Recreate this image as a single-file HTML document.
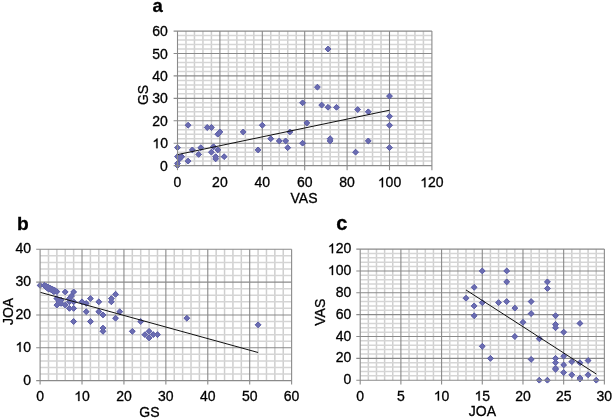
<!DOCTYPE html>
<html><head><meta charset="utf-8">
<style>
html,body{margin:0;padding:0;background:#fff;}
body{width:614px;height:419px;overflow:hidden;}
svg{display:block;}
text{font-family:"Liberation Sans",sans-serif;font-size:14px;fill:#000;stroke:#000;stroke-width:0.3px;}
.t{font-weight:bold;font-size:20px;}
.po{fill:#46489a;stroke:#46489a;stroke-width:0.9px;stroke-linejoin:miter;}
.pi{fill:#6a6cb1;}
.h{fill-opacity:0;stroke-opacity:0;}
.one{fill:#000;stroke:#000;stroke-width:44;}
</style></head><body>
<svg width="614" height="419" viewBox="0 0 614 419">
<defs><filter id="bl" x="0" y="0" width="100%" height="100%"><feGaussianBlur stdDeviation="0.4"/></filter></defs>
<rect width="614" height="419" fill="#fff"/>
<g filter="url(#bl)">
<g>
<line x1="185.98" y1="31.08" x2="185.98" y2="165.6" stroke="#cfcfcf" stroke-width="1.5"/>
<line x1="194.46" y1="31.08" x2="194.46" y2="165.6" stroke="#cfcfcf" stroke-width="1.5"/>
<line x1="202.94" y1="31.08" x2="202.94" y2="165.6" stroke="#cfcfcf" stroke-width="1.5"/>
<line x1="211.42" y1="31.08" x2="211.42" y2="165.6" stroke="#cfcfcf" stroke-width="1.5"/>
<line x1="228.38" y1="31.08" x2="228.38" y2="165.6" stroke="#cfcfcf" stroke-width="1.5"/>
<line x1="236.86" y1="31.08" x2="236.86" y2="165.6" stroke="#cfcfcf" stroke-width="1.5"/>
<line x1="245.34" y1="31.08" x2="245.34" y2="165.6" stroke="#cfcfcf" stroke-width="1.5"/>
<line x1="253.82" y1="31.08" x2="253.82" y2="165.6" stroke="#cfcfcf" stroke-width="1.5"/>
<line x1="270.78" y1="31.08" x2="270.78" y2="165.6" stroke="#cfcfcf" stroke-width="1.5"/>
<line x1="279.26" y1="31.08" x2="279.26" y2="165.6" stroke="#cfcfcf" stroke-width="1.5"/>
<line x1="287.74" y1="31.08" x2="287.74" y2="165.6" stroke="#cfcfcf" stroke-width="1.5"/>
<line x1="296.22" y1="31.08" x2="296.22" y2="165.6" stroke="#cfcfcf" stroke-width="1.5"/>
<line x1="313.18" y1="31.08" x2="313.18" y2="165.6" stroke="#cfcfcf" stroke-width="1.5"/>
<line x1="321.66" y1="31.08" x2="321.66" y2="165.6" stroke="#cfcfcf" stroke-width="1.5"/>
<line x1="330.14" y1="31.08" x2="330.14" y2="165.6" stroke="#cfcfcf" stroke-width="1.5"/>
<line x1="338.62" y1="31.08" x2="338.62" y2="165.6" stroke="#cfcfcf" stroke-width="1.5"/>
<line x1="355.58" y1="31.08" x2="355.58" y2="165.6" stroke="#cfcfcf" stroke-width="1.5"/>
<line x1="364.06" y1="31.08" x2="364.06" y2="165.6" stroke="#cfcfcf" stroke-width="1.5"/>
<line x1="372.54" y1="31.08" x2="372.54" y2="165.6" stroke="#cfcfcf" stroke-width="1.5"/>
<line x1="381.02" y1="31.08" x2="381.02" y2="165.6" stroke="#cfcfcf" stroke-width="1.5"/>
<line x1="397.98" y1="31.08" x2="397.98" y2="165.6" stroke="#cfcfcf" stroke-width="1.5"/>
<line x1="406.46" y1="31.08" x2="406.46" y2="165.6" stroke="#cfcfcf" stroke-width="1.5"/>
<line x1="414.94" y1="31.08" x2="414.94" y2="165.6" stroke="#cfcfcf" stroke-width="1.5"/>
<line x1="423.42" y1="31.08" x2="423.42" y2="165.6" stroke="#cfcfcf" stroke-width="1.5"/>
<line x1="177.5" y1="161.12" x2="431.9" y2="161.12" stroke="#d5d5d5" stroke-width="1.5"/>
<line x1="177.5" y1="156.63" x2="431.9" y2="156.63" stroke="#d5d5d5" stroke-width="1.5"/>
<line x1="177.5" y1="152.15" x2="431.9" y2="152.15" stroke="#d5d5d5" stroke-width="1.5"/>
<line x1="177.5" y1="147.66" x2="431.9" y2="147.66" stroke="#d5d5d5" stroke-width="1.5"/>
<line x1="177.5" y1="138.7" x2="431.9" y2="138.7" stroke="#d5d5d5" stroke-width="1.5"/>
<line x1="177.5" y1="134.21" x2="431.9" y2="134.21" stroke="#d5d5d5" stroke-width="1.5"/>
<line x1="177.5" y1="129.73" x2="431.9" y2="129.73" stroke="#d5d5d5" stroke-width="1.5"/>
<line x1="177.5" y1="125.24" x2="431.9" y2="125.24" stroke="#d5d5d5" stroke-width="1.5"/>
<line x1="177.5" y1="116.28" x2="431.9" y2="116.28" stroke="#d5d5d5" stroke-width="1.5"/>
<line x1="177.5" y1="111.79" x2="431.9" y2="111.79" stroke="#d5d5d5" stroke-width="1.5"/>
<line x1="177.5" y1="107.31" x2="431.9" y2="107.31" stroke="#d5d5d5" stroke-width="1.5"/>
<line x1="177.5" y1="102.82" x2="431.9" y2="102.82" stroke="#d5d5d5" stroke-width="1.5"/>
<line x1="177.5" y1="93.86" x2="431.9" y2="93.86" stroke="#d5d5d5" stroke-width="1.5"/>
<line x1="177.5" y1="89.37" x2="431.9" y2="89.37" stroke="#d5d5d5" stroke-width="1.5"/>
<line x1="177.5" y1="84.89" x2="431.9" y2="84.89" stroke="#d5d5d5" stroke-width="1.5"/>
<line x1="177.5" y1="80.4" x2="431.9" y2="80.4" stroke="#d5d5d5" stroke-width="1.5"/>
<line x1="177.5" y1="71.44" x2="431.9" y2="71.44" stroke="#d5d5d5" stroke-width="1.5"/>
<line x1="177.5" y1="66.95" x2="431.9" y2="66.95" stroke="#d5d5d5" stroke-width="1.5"/>
<line x1="177.5" y1="62.47" x2="431.9" y2="62.47" stroke="#d5d5d5" stroke-width="1.5"/>
<line x1="177.5" y1="57.98" x2="431.9" y2="57.98" stroke="#d5d5d5" stroke-width="1.5"/>
<line x1="177.5" y1="49.02" x2="431.9" y2="49.02" stroke="#d5d5d5" stroke-width="1.5"/>
<line x1="177.5" y1="44.53" x2="431.9" y2="44.53" stroke="#d5d5d5" stroke-width="1.5"/>
<line x1="177.5" y1="40.05" x2="431.9" y2="40.05" stroke="#d5d5d5" stroke-width="1.5"/>
<line x1="177.5" y1="35.56" x2="431.9" y2="35.56" stroke="#d5d5d5" stroke-width="1.5"/>
<line x1="219.9" y1="31.08" x2="219.9" y2="170.2" stroke="#8a8a8a" stroke-width="1.1"/>
<line x1="262.3" y1="31.08" x2="262.3" y2="170.2" stroke="#8a8a8a" stroke-width="1.1"/>
<line x1="304.7" y1="31.08" x2="304.7" y2="170.2" stroke="#8a8a8a" stroke-width="1.1"/>
<line x1="347.1" y1="31.08" x2="347.1" y2="170.2" stroke="#8a8a8a" stroke-width="1.1"/>
<line x1="389.5" y1="31.08" x2="389.5" y2="170.2" stroke="#8a8a8a" stroke-width="1.1"/>
<line x1="431.9" y1="31.08" x2="431.9" y2="170.2" stroke="#8a8a8a" stroke-width="1.1"/>
<line x1="173.6" y1="143.18" x2="431.9" y2="143.18" stroke="#8a8a8a" stroke-width="1.1"/>
<line x1="173.6" y1="120.76" x2="431.9" y2="120.76" stroke="#8a8a8a" stroke-width="1.1"/>
<line x1="173.6" y1="98.34" x2="431.9" y2="98.34" stroke="#8a8a8a" stroke-width="1.1"/>
<line x1="173.6" y1="75.92" x2="431.9" y2="75.92" stroke="#8a8a8a" stroke-width="1.1"/>
<line x1="173.6" y1="53.5" x2="431.9" y2="53.5" stroke="#8a8a8a" stroke-width="1.1"/>
<line x1="173.6" y1="31.08" x2="431.9" y2="31.08" stroke="#8a8a8a" stroke-width="1.1"/>
<text x="173.61" y="187.2">0</text>
<text x="212.11" y="187.2">20</text>
<text x="254.51" y="187.2">40</text>
<text x="296.91" y="187.2">60</text>
<text x="339.31" y="187.2">80</text>
<text x="377.82" y="187.2"><tspan class="h">1</tspan>00</text><path class="one" transform="translate(377.82 187.2) scale(0.006836 -0.006836)" d="M763 0H583V1100Q518 1040 412 980Q307 921 223 891V1058Q374 1127 487 1224Q600 1321 647 1409H763V0Z"/>
<text x="420.22" y="187.2"><tspan class="h">1</tspan>20</text><path class="one" transform="translate(420.22 187.2) scale(0.006836 -0.006836)" d="M763 0H583V1100Q518 1040 412 980Q307 921 223 891V1058Q374 1127 487 1224Q600 1321 647 1409H763V0Z"/>
<text x="160.11" y="170.6">0</text>
<text x="152.33" y="148.18"><tspan class="h">1</tspan>0</text><path class="one" transform="translate(152.33 148.18) scale(0.006836 -0.006836)" d="M763 0H583V1100Q518 1040 412 980Q307 921 223 891V1058Q374 1127 487 1224Q600 1321 647 1409H763V0Z"/>
<text x="152.33" y="125.76">20</text>
<text x="152.33" y="103.34">30</text>
<text x="152.33" y="80.92">40</text>
<text x="152.33" y="58.5">50</text>
<text x="152.33" y="36.08">60</text>
<path class="po" d="M177.5 162.7L180.4 165.6L177.5 168.5L174.6 165.6ZM177.5 160.46L180.4 163.36L177.5 166.26L174.6 163.36ZM177.5 153.73L180.4 156.63L177.5 159.53L174.6 156.63ZM177.5 144.76L180.4 147.66L177.5 150.56L174.6 147.66ZM179.62 155.97L182.52 158.87L179.62 161.77L176.72 158.87ZM181.74 153.73L184.64 156.63L181.74 159.53L178.84 156.63ZM188.1 158.22L191 161.12L188.1 164.02L185.2 161.12ZM188.1 122.34L191 125.24L188.1 128.14L185.2 125.24ZM192.34 147.01L195.24 149.91L192.34 152.81L189.44 149.91ZM198.7 151.49L201.6 154.39L198.7 157.29L195.8 154.39ZM200.82 144.76L203.72 147.66L200.82 150.56L197.92 147.66ZM207.18 124.59L210.08 127.49L207.18 130.39L204.28 127.49ZM211.42 124.59L214.32 127.49L211.42 130.39L208.52 127.49ZM211.42 149.25L214.32 152.15L211.42 155.05L208.52 152.15ZM213.54 143.87L216.44 146.77L213.54 149.67L210.64 146.77ZM215.66 153.73L218.56 156.63L215.66 159.53L212.76 156.63ZM215.66 155.97L218.56 158.87L215.66 161.77L212.76 158.87ZM217.78 147.01L220.68 149.91L217.78 152.81L214.88 149.91ZM217.78 131.31L220.68 134.21L217.78 137.11L214.88 134.21ZM219.9 129.07L222.8 131.97L219.9 134.87L217 131.97ZM224.14 153.73L227.04 156.63L224.14 159.53L221.24 156.63ZM243.22 129.07L246.12 131.97L243.22 134.87L240.32 131.97ZM258.06 147.01L260.96 149.91L258.06 152.81L255.16 149.91ZM262.3 122.34L265.2 125.24L262.3 128.14L259.4 125.24ZM270.78 135.8L273.68 138.7L270.78 141.6L267.88 138.7ZM279.26 138.04L282.16 140.94L279.26 143.84L276.36 140.94ZM285.62 138.04L288.52 140.94L285.62 143.84L282.72 140.94ZM287.74 144.76L290.64 147.66L287.74 150.56L284.84 147.66ZM289.86 129.07L292.76 131.97L289.86 134.87L286.96 131.97ZM302.58 99.92L305.48 102.82L302.58 105.72L299.68 102.82ZM302.58 140.28L305.48 143.18L302.58 146.08L299.68 143.18ZM306.82 120.1L309.72 123L306.82 125.9L303.92 123ZM317.42 84.23L320.32 87.13L317.42 90.03L314.52 87.13ZM321.66 102.17L324.56 105.07L321.66 107.97L318.76 105.07ZM328.02 46.12L330.92 49.02L328.02 51.92L325.12 49.02ZM328.02 104.41L330.92 107.31L328.02 110.21L325.12 107.31ZM330.14 135.8L333.04 138.7L330.14 141.6L327.24 138.7ZM330.14 138.04L333.04 140.94L330.14 143.84L327.24 140.94ZM336.5 104.41L339.4 107.31L336.5 110.21L333.6 107.31ZM355.58 149.25L358.48 152.15L355.58 155.05L352.68 152.15ZM357.7 106.65L360.6 109.55L357.7 112.45L354.8 109.55ZM368.3 108.89L371.2 111.79L368.3 114.69L365.4 111.79ZM368.3 138.04L371.2 140.94L368.3 143.84L365.4 140.94ZM389.5 93.2L392.4 96.1L389.5 99L386.6 96.1ZM389.5 113.38L392.4 116.28L389.5 119.18L386.6 116.28ZM389.5 122.34L392.4 125.24L389.5 128.14L386.6 125.24ZM389.5 144.76L392.4 147.66L389.5 150.56L386.6 147.66Z"/>
<path class="pi" d="M177.5 162.7L180.4 165.6L177.5 168.5L174.6 165.6ZM177.5 160.46L180.4 163.36L177.5 166.26L174.6 163.36ZM177.5 153.73L180.4 156.63L177.5 159.53L174.6 156.63ZM177.5 144.76L180.4 147.66L177.5 150.56L174.6 147.66ZM179.62 155.97L182.52 158.87L179.62 161.77L176.72 158.87ZM181.74 153.73L184.64 156.63L181.74 159.53L178.84 156.63ZM188.1 158.22L191 161.12L188.1 164.02L185.2 161.12ZM188.1 122.34L191 125.24L188.1 128.14L185.2 125.24ZM192.34 147.01L195.24 149.91L192.34 152.81L189.44 149.91ZM198.7 151.49L201.6 154.39L198.7 157.29L195.8 154.39ZM200.82 144.76L203.72 147.66L200.82 150.56L197.92 147.66ZM207.18 124.59L210.08 127.49L207.18 130.39L204.28 127.49ZM211.42 124.59L214.32 127.49L211.42 130.39L208.52 127.49ZM211.42 149.25L214.32 152.15L211.42 155.05L208.52 152.15ZM213.54 143.87L216.44 146.77L213.54 149.67L210.64 146.77ZM215.66 153.73L218.56 156.63L215.66 159.53L212.76 156.63ZM215.66 155.97L218.56 158.87L215.66 161.77L212.76 158.87ZM217.78 147.01L220.68 149.91L217.78 152.81L214.88 149.91ZM217.78 131.31L220.68 134.21L217.78 137.11L214.88 134.21ZM219.9 129.07L222.8 131.97L219.9 134.87L217 131.97ZM224.14 153.73L227.04 156.63L224.14 159.53L221.24 156.63ZM243.22 129.07L246.12 131.97L243.22 134.87L240.32 131.97ZM258.06 147.01L260.96 149.91L258.06 152.81L255.16 149.91ZM262.3 122.34L265.2 125.24L262.3 128.14L259.4 125.24ZM270.78 135.8L273.68 138.7L270.78 141.6L267.88 138.7ZM279.26 138.04L282.16 140.94L279.26 143.84L276.36 140.94ZM285.62 138.04L288.52 140.94L285.62 143.84L282.72 140.94ZM287.74 144.76L290.64 147.66L287.74 150.56L284.84 147.66ZM289.86 129.07L292.76 131.97L289.86 134.87L286.96 131.97ZM302.58 99.92L305.48 102.82L302.58 105.72L299.68 102.82ZM302.58 140.28L305.48 143.18L302.58 146.08L299.68 143.18ZM306.82 120.1L309.72 123L306.82 125.9L303.92 123ZM317.42 84.23L320.32 87.13L317.42 90.03L314.52 87.13ZM321.66 102.17L324.56 105.07L321.66 107.97L318.76 105.07ZM328.02 46.12L330.92 49.02L328.02 51.92L325.12 49.02ZM328.02 104.41L330.92 107.31L328.02 110.21L325.12 107.31ZM330.14 135.8L333.04 138.7L330.14 141.6L327.24 138.7ZM330.14 138.04L333.04 140.94L330.14 143.84L327.24 140.94ZM336.5 104.41L339.4 107.31L336.5 110.21L333.6 107.31ZM355.58 149.25L358.48 152.15L355.58 155.05L352.68 152.15ZM357.7 106.65L360.6 109.55L357.7 112.45L354.8 109.55ZM368.3 108.89L371.2 111.79L368.3 114.69L365.4 111.79ZM368.3 138.04L371.2 140.94L368.3 143.84L365.4 140.94ZM389.5 93.2L392.4 96.1L389.5 99L386.6 96.1ZM389.5 113.38L392.4 116.28L389.5 119.18L386.6 116.28ZM389.5 122.34L392.4 125.24L389.5 128.14L386.6 125.24ZM389.5 144.76L392.4 147.66L389.5 150.56L386.6 147.66Z"/>
<line x1="177.5" y1="154.61" x2="389.5" y2="110.22" stroke="#111" stroke-width="1.0"/>
<line x1="177.5" y1="31.08" x2="177.5" y2="170.2" stroke="#8a8a8a" stroke-width="1.1"/>
<line x1="173.6" y1="165.6" x2="431.9" y2="165.6" stroke="#8a8a8a" stroke-width="1.1"/>
</g>
<g>
<line x1="48.48" y1="249.28" x2="48.48" y2="380.6" stroke="#cfcfcf" stroke-width="1.5"/>
<line x1="56.87" y1="249.28" x2="56.87" y2="380.6" stroke="#cfcfcf" stroke-width="1.5"/>
<line x1="65.25" y1="249.28" x2="65.25" y2="380.6" stroke="#cfcfcf" stroke-width="1.5"/>
<line x1="73.64" y1="249.28" x2="73.64" y2="380.6" stroke="#cfcfcf" stroke-width="1.5"/>
<line x1="90.4" y1="249.28" x2="90.4" y2="380.6" stroke="#cfcfcf" stroke-width="1.5"/>
<line x1="98.79" y1="249.28" x2="98.79" y2="380.6" stroke="#cfcfcf" stroke-width="1.5"/>
<line x1="107.17" y1="249.28" x2="107.17" y2="380.6" stroke="#cfcfcf" stroke-width="1.5"/>
<line x1="115.56" y1="249.28" x2="115.56" y2="380.6" stroke="#cfcfcf" stroke-width="1.5"/>
<line x1="132.32" y1="249.28" x2="132.32" y2="380.6" stroke="#cfcfcf" stroke-width="1.5"/>
<line x1="140.71" y1="249.28" x2="140.71" y2="380.6" stroke="#cfcfcf" stroke-width="1.5"/>
<line x1="149.09" y1="249.28" x2="149.09" y2="380.6" stroke="#cfcfcf" stroke-width="1.5"/>
<line x1="157.48" y1="249.28" x2="157.48" y2="380.6" stroke="#cfcfcf" stroke-width="1.5"/>
<line x1="174.24" y1="249.28" x2="174.24" y2="380.6" stroke="#cfcfcf" stroke-width="1.5"/>
<line x1="182.63" y1="249.28" x2="182.63" y2="380.6" stroke="#cfcfcf" stroke-width="1.5"/>
<line x1="191.01" y1="249.28" x2="191.01" y2="380.6" stroke="#cfcfcf" stroke-width="1.5"/>
<line x1="199.4" y1="249.28" x2="199.4" y2="380.6" stroke="#cfcfcf" stroke-width="1.5"/>
<line x1="216.16" y1="249.28" x2="216.16" y2="380.6" stroke="#cfcfcf" stroke-width="1.5"/>
<line x1="224.55" y1="249.28" x2="224.55" y2="380.6" stroke="#cfcfcf" stroke-width="1.5"/>
<line x1="232.93" y1="249.28" x2="232.93" y2="380.6" stroke="#cfcfcf" stroke-width="1.5"/>
<line x1="241.32" y1="249.28" x2="241.32" y2="380.6" stroke="#cfcfcf" stroke-width="1.5"/>
<line x1="258.08" y1="249.28" x2="258.08" y2="380.6" stroke="#cfcfcf" stroke-width="1.5"/>
<line x1="266.47" y1="249.28" x2="266.47" y2="380.6" stroke="#cfcfcf" stroke-width="1.5"/>
<line x1="274.85" y1="249.28" x2="274.85" y2="380.6" stroke="#cfcfcf" stroke-width="1.5"/>
<line x1="283.24" y1="249.28" x2="283.24" y2="380.6" stroke="#cfcfcf" stroke-width="1.5"/>
<line x1="40.1" y1="374.03" x2="291.62" y2="374.03" stroke="#d5d5d5" stroke-width="1.5"/>
<line x1="40.1" y1="367.47" x2="291.62" y2="367.47" stroke="#d5d5d5" stroke-width="1.5"/>
<line x1="40.1" y1="360.9" x2="291.62" y2="360.9" stroke="#d5d5d5" stroke-width="1.5"/>
<line x1="40.1" y1="354.34" x2="291.62" y2="354.34" stroke="#d5d5d5" stroke-width="1.5"/>
<line x1="40.1" y1="341.2" x2="291.62" y2="341.2" stroke="#d5d5d5" stroke-width="1.5"/>
<line x1="40.1" y1="334.64" x2="291.62" y2="334.64" stroke="#d5d5d5" stroke-width="1.5"/>
<line x1="40.1" y1="328.07" x2="291.62" y2="328.07" stroke="#d5d5d5" stroke-width="1.5"/>
<line x1="40.1" y1="321.51" x2="291.62" y2="321.51" stroke="#d5d5d5" stroke-width="1.5"/>
<line x1="40.1" y1="308.37" x2="291.62" y2="308.37" stroke="#d5d5d5" stroke-width="1.5"/>
<line x1="40.1" y1="301.81" x2="291.62" y2="301.81" stroke="#d5d5d5" stroke-width="1.5"/>
<line x1="40.1" y1="295.24" x2="291.62" y2="295.24" stroke="#d5d5d5" stroke-width="1.5"/>
<line x1="40.1" y1="288.68" x2="291.62" y2="288.68" stroke="#d5d5d5" stroke-width="1.5"/>
<line x1="40.1" y1="275.54" x2="291.62" y2="275.54" stroke="#d5d5d5" stroke-width="1.5"/>
<line x1="40.1" y1="268.98" x2="291.62" y2="268.98" stroke="#d5d5d5" stroke-width="1.5"/>
<line x1="40.1" y1="262.41" x2="291.62" y2="262.41" stroke="#d5d5d5" stroke-width="1.5"/>
<line x1="40.1" y1="255.85" x2="291.62" y2="255.85" stroke="#d5d5d5" stroke-width="1.5"/>
<line x1="82.02" y1="249.28" x2="82.02" y2="384.6" stroke="#8a8a8a" stroke-width="1.1"/>
<line x1="123.94" y1="249.28" x2="123.94" y2="384.6" stroke="#8a8a8a" stroke-width="1.1"/>
<line x1="165.86" y1="249.28" x2="165.86" y2="384.6" stroke="#8a8a8a" stroke-width="1.1"/>
<line x1="207.78" y1="249.28" x2="207.78" y2="384.6" stroke="#8a8a8a" stroke-width="1.1"/>
<line x1="249.7" y1="249.28" x2="249.7" y2="384.6" stroke="#8a8a8a" stroke-width="1.1"/>
<line x1="291.62" y1="249.28" x2="291.62" y2="384.6" stroke="#8a8a8a" stroke-width="1.1"/>
<line x1="36.2" y1="347.77" x2="291.62" y2="347.77" stroke="#8a8a8a" stroke-width="1.1"/>
<line x1="36.2" y1="314.94" x2="291.62" y2="314.94" stroke="#8a8a8a" stroke-width="1.1"/>
<line x1="36.2" y1="282.11" x2="291.62" y2="282.11" stroke="#8a8a8a" stroke-width="1.1"/>
<line x1="36.2" y1="249.28" x2="291.62" y2="249.28" stroke="#8a8a8a" stroke-width="1.1"/>
<text x="36.21" y="401">0</text>
<text x="74.23" y="401"><tspan class="h">1</tspan>0</text><path class="one" transform="translate(74.23 401) scale(0.006836 -0.006836)" d="M763 0H583V1100Q518 1040 412 980Q307 921 223 891V1058Q374 1127 487 1224Q600 1321 647 1409H763V0Z"/>
<text x="116.15" y="401">20</text>
<text x="158.07" y="401">30</text>
<text x="199.99" y="401">40</text>
<text x="241.91" y="401">50</text>
<text x="283.83" y="401">60</text>
<text x="23.21" y="384.5">0</text>
<text x="15.43" y="351.67"><tspan class="h">1</tspan>0</text><path class="one" transform="translate(15.43 351.67) scale(0.006836 -0.006836)" d="M763 0H583V1100Q518 1040 412 980Q307 921 223 891V1058Q374 1127 487 1224Q600 1321 647 1409H763V0Z"/>
<text x="15.43" y="318.84">20</text>
<text x="15.43" y="286.01">30</text>
<text x="15.43" y="253.18">40</text>
<path class="po" d="M40.1 282.49L43 285.39L40.1 288.29L37.2 285.39ZM44.29 282.49L47.19 285.39L44.29 288.29L41.39 285.39ZM46.39 283.48L49.29 286.38L46.39 289.28L43.49 286.38ZM48.48 284.46L51.38 287.36L48.48 290.26L45.58 287.36ZM50.58 285.45L53.48 288.35L50.58 291.25L47.68 288.35ZM52.68 286.43L55.58 289.33L52.68 292.23L49.78 289.33ZM54.77 287.42L57.67 290.32L54.77 293.22L51.87 290.32ZM56.87 288.73L59.77 291.63L56.87 294.53L53.97 291.63ZM46.39 284.46L49.29 287.36L46.39 290.26L43.49 287.36ZM50.58 286.43L53.48 289.33L50.58 292.23L47.68 289.33ZM53.93 288.73L56.83 291.63L53.93 294.53L51.03 291.63ZM48.48 286.1L51.38 289L48.48 291.9L45.58 289ZM52.68 287.75L55.58 290.65L52.68 293.55L49.78 290.65ZM65.25 289.06L68.15 291.96L65.25 294.86L62.35 291.96ZM73.64 289.06L76.54 291.96L73.64 294.86L70.74 291.96ZM71.54 293L74.44 295.9L71.54 298.8L68.64 295.9ZM69.44 295.63L72.34 298.53L69.44 301.43L66.54 298.53ZM65.25 302.19L68.15 305.09L65.25 307.99L62.35 305.09ZM69.44 298.91L72.34 301.81L69.44 304.71L66.54 301.81ZM73.64 298.91L76.54 301.81L73.64 304.71L70.74 301.81ZM69.44 305.47L72.34 308.37L69.44 311.27L66.54 308.37ZM73.64 305.47L76.54 308.37L73.64 311.27L70.74 308.37ZM56.87 295.63L59.77 298.53L56.87 301.43L53.97 298.53ZM56.87 302.19L59.77 305.09L56.87 307.99L53.97 305.09ZM61.06 300.55L63.96 303.45L61.06 306.35L58.16 303.45ZM61.06 297.27L63.96 300.17L61.06 303.07L58.16 300.17ZM58.96 298.91L61.86 301.81L58.96 304.71L56.06 301.81ZM73.64 318.61L76.54 321.51L73.64 324.41L70.74 321.51ZM82.02 298.91L84.92 301.81L82.02 304.71L79.12 301.81ZM86.21 300.55L89.11 303.45L86.21 306.35L83.31 303.45ZM90.4 295.63L93.3 298.53L90.4 301.43L87.5 298.53ZM86.21 308.76L89.11 311.66L86.21 314.56L83.31 311.66ZM90.4 318.61L93.3 321.51L90.4 324.41L87.5 321.51ZM98.79 298.91L101.69 301.81L98.79 304.71L95.89 301.81ZM98.79 308.76L101.69 311.66L98.79 314.56L95.89 311.66ZM102.98 312.04L105.88 314.94L102.98 317.84L100.08 314.94ZM111.36 295.63L114.26 298.53L111.36 301.43L108.46 298.53ZM111.36 298.91L114.26 301.81L111.36 304.71L108.46 301.81ZM115.56 291.36L118.46 294.26L115.56 297.16L112.66 294.26ZM115.56 315.32L118.46 318.22L115.56 321.12L112.66 318.22ZM119.75 308.76L122.65 311.66L119.75 314.56L116.85 311.66ZM102.98 325.17L105.88 328.07L102.98 330.97L100.08 328.07ZM102.98 328.46L105.88 331.36L102.98 334.25L100.08 331.36ZM132.32 328.46L135.22 331.36L132.32 334.25L129.42 331.36ZM140.71 318.61L143.61 321.51L140.71 324.41L137.81 321.51ZM144.9 331.74L147.8 334.64L144.9 337.54L142 334.64ZM149.09 328.46L151.99 331.36L149.09 334.25L146.19 331.36ZM149.09 335.02L151.99 337.92L149.09 340.82L146.19 337.92ZM153.28 331.74L156.18 334.64L153.28 337.54L150.38 334.64ZM157.48 331.74L160.38 334.64L157.48 337.54L154.58 334.64ZM186.82 315.32L189.72 318.22L186.82 321.12L183.92 318.22ZM258.08 321.89L260.98 324.79L258.08 327.69L255.18 324.79Z"/>
<path class="pi" d="M40.1 282.49L43 285.39L40.1 288.29L37.2 285.39ZM44.29 282.49L47.19 285.39L44.29 288.29L41.39 285.39ZM46.39 283.48L49.29 286.38L46.39 289.28L43.49 286.38ZM48.48 284.46L51.38 287.36L48.48 290.26L45.58 287.36ZM50.58 285.45L53.48 288.35L50.58 291.25L47.68 288.35ZM52.68 286.43L55.58 289.33L52.68 292.23L49.78 289.33ZM54.77 287.42L57.67 290.32L54.77 293.22L51.87 290.32ZM56.87 288.73L59.77 291.63L56.87 294.53L53.97 291.63ZM46.39 284.46L49.29 287.36L46.39 290.26L43.49 287.36ZM50.58 286.43L53.48 289.33L50.58 292.23L47.68 289.33ZM53.93 288.73L56.83 291.63L53.93 294.53L51.03 291.63ZM48.48 286.1L51.38 289L48.48 291.9L45.58 289ZM52.68 287.75L55.58 290.65L52.68 293.55L49.78 290.65ZM65.25 289.06L68.15 291.96L65.25 294.86L62.35 291.96ZM73.64 289.06L76.54 291.96L73.64 294.86L70.74 291.96ZM71.54 293L74.44 295.9L71.54 298.8L68.64 295.9ZM69.44 295.63L72.34 298.53L69.44 301.43L66.54 298.53ZM65.25 302.19L68.15 305.09L65.25 307.99L62.35 305.09ZM69.44 298.91L72.34 301.81L69.44 304.71L66.54 301.81ZM73.64 298.91L76.54 301.81L73.64 304.71L70.74 301.81ZM69.44 305.47L72.34 308.37L69.44 311.27L66.54 308.37ZM73.64 305.47L76.54 308.37L73.64 311.27L70.74 308.37ZM56.87 295.63L59.77 298.53L56.87 301.43L53.97 298.53ZM56.87 302.19L59.77 305.09L56.87 307.99L53.97 305.09ZM61.06 300.55L63.96 303.45L61.06 306.35L58.16 303.45ZM61.06 297.27L63.96 300.17L61.06 303.07L58.16 300.17ZM58.96 298.91L61.86 301.81L58.96 304.71L56.06 301.81ZM73.64 318.61L76.54 321.51L73.64 324.41L70.74 321.51ZM82.02 298.91L84.92 301.81L82.02 304.71L79.12 301.81ZM86.21 300.55L89.11 303.45L86.21 306.35L83.31 303.45ZM90.4 295.63L93.3 298.53L90.4 301.43L87.5 298.53ZM86.21 308.76L89.11 311.66L86.21 314.56L83.31 311.66ZM90.4 318.61L93.3 321.51L90.4 324.41L87.5 321.51ZM98.79 298.91L101.69 301.81L98.79 304.71L95.89 301.81ZM98.79 308.76L101.69 311.66L98.79 314.56L95.89 311.66ZM102.98 312.04L105.88 314.94L102.98 317.84L100.08 314.94ZM111.36 295.63L114.26 298.53L111.36 301.43L108.46 298.53ZM111.36 298.91L114.26 301.81L111.36 304.71L108.46 301.81ZM115.56 291.36L118.46 294.26L115.56 297.16L112.66 294.26ZM115.56 315.32L118.46 318.22L115.56 321.12L112.66 318.22ZM119.75 308.76L122.65 311.66L119.75 314.56L116.85 311.66ZM102.98 325.17L105.88 328.07L102.98 330.97L100.08 328.07ZM102.98 328.46L105.88 331.36L102.98 334.25L100.08 331.36ZM132.32 328.46L135.22 331.36L132.32 334.25L129.42 331.36ZM140.71 318.61L143.61 321.51L140.71 324.41L137.81 321.51ZM144.9 331.74L147.8 334.64L144.9 337.54L142 334.64ZM149.09 328.46L151.99 331.36L149.09 334.25L146.19 331.36ZM149.09 335.02L151.99 337.92L149.09 340.82L146.19 337.92ZM153.28 331.74L156.18 334.64L153.28 337.54L150.38 334.64ZM157.48 331.74L160.38 334.64L157.48 337.54L154.58 334.64ZM186.82 315.32L189.72 318.22L186.82 321.12L183.92 318.22ZM258.08 321.89L260.98 324.79L258.08 327.69L255.18 324.79Z"/>
<line x1="40.1" y1="292.29" x2="258.08" y2="352.5" stroke="#111" stroke-width="1.0"/>
<line x1="40.1" y1="249.28" x2="40.1" y2="384.6" stroke="#8a8a8a" stroke-width="1.1"/>
<line x1="36.2" y1="380.6" x2="291.62" y2="380.6" stroke="#8a8a8a" stroke-width="1.1"/>
</g>
<g>
<line x1="368.34" y1="249.1" x2="368.34" y2="380.2" stroke="#cfcfcf" stroke-width="1.5"/>
<line x1="376.48" y1="249.1" x2="376.48" y2="380.2" stroke="#cfcfcf" stroke-width="1.5"/>
<line x1="384.62" y1="249.1" x2="384.62" y2="380.2" stroke="#cfcfcf" stroke-width="1.5"/>
<line x1="392.76" y1="249.1" x2="392.76" y2="380.2" stroke="#cfcfcf" stroke-width="1.5"/>
<line x1="409.03" y1="249.1" x2="409.03" y2="380.2" stroke="#cfcfcf" stroke-width="1.5"/>
<line x1="417.17" y1="249.1" x2="417.17" y2="380.2" stroke="#cfcfcf" stroke-width="1.5"/>
<line x1="425.31" y1="249.1" x2="425.31" y2="380.2" stroke="#cfcfcf" stroke-width="1.5"/>
<line x1="433.45" y1="249.1" x2="433.45" y2="380.2" stroke="#cfcfcf" stroke-width="1.5"/>
<line x1="449.73" y1="249.1" x2="449.73" y2="380.2" stroke="#cfcfcf" stroke-width="1.5"/>
<line x1="457.87" y1="249.1" x2="457.87" y2="380.2" stroke="#cfcfcf" stroke-width="1.5"/>
<line x1="466.01" y1="249.1" x2="466.01" y2="380.2" stroke="#cfcfcf" stroke-width="1.5"/>
<line x1="474.15" y1="249.1" x2="474.15" y2="380.2" stroke="#cfcfcf" stroke-width="1.5"/>
<line x1="490.42" y1="249.1" x2="490.42" y2="380.2" stroke="#cfcfcf" stroke-width="1.5"/>
<line x1="498.56" y1="249.1" x2="498.56" y2="380.2" stroke="#cfcfcf" stroke-width="1.5"/>
<line x1="506.7" y1="249.1" x2="506.7" y2="380.2" stroke="#cfcfcf" stroke-width="1.5"/>
<line x1="514.84" y1="249.1" x2="514.84" y2="380.2" stroke="#cfcfcf" stroke-width="1.5"/>
<line x1="531.12" y1="249.1" x2="531.12" y2="380.2" stroke="#cfcfcf" stroke-width="1.5"/>
<line x1="539.26" y1="249.1" x2="539.26" y2="380.2" stroke="#cfcfcf" stroke-width="1.5"/>
<line x1="547.4" y1="249.1" x2="547.4" y2="380.2" stroke="#cfcfcf" stroke-width="1.5"/>
<line x1="555.54" y1="249.1" x2="555.54" y2="380.2" stroke="#cfcfcf" stroke-width="1.5"/>
<line x1="571.81" y1="249.1" x2="571.81" y2="380.2" stroke="#cfcfcf" stroke-width="1.5"/>
<line x1="579.95" y1="249.1" x2="579.95" y2="380.2" stroke="#cfcfcf" stroke-width="1.5"/>
<line x1="588.09" y1="249.1" x2="588.09" y2="380.2" stroke="#cfcfcf" stroke-width="1.5"/>
<line x1="596.23" y1="249.1" x2="596.23" y2="380.2" stroke="#cfcfcf" stroke-width="1.5"/>
<line x1="360.2" y1="375.83" x2="604.37" y2="375.83" stroke="#d5d5d5" stroke-width="1.5"/>
<line x1="360.2" y1="371.46" x2="604.37" y2="371.46" stroke="#d5d5d5" stroke-width="1.5"/>
<line x1="360.2" y1="367.09" x2="604.37" y2="367.09" stroke="#d5d5d5" stroke-width="1.5"/>
<line x1="360.2" y1="362.72" x2="604.37" y2="362.72" stroke="#d5d5d5" stroke-width="1.5"/>
<line x1="360.2" y1="353.98" x2="604.37" y2="353.98" stroke="#d5d5d5" stroke-width="1.5"/>
<line x1="360.2" y1="349.61" x2="604.37" y2="349.61" stroke="#d5d5d5" stroke-width="1.5"/>
<line x1="360.2" y1="345.24" x2="604.37" y2="345.24" stroke="#d5d5d5" stroke-width="1.5"/>
<line x1="360.2" y1="340.87" x2="604.37" y2="340.87" stroke="#d5d5d5" stroke-width="1.5"/>
<line x1="360.2" y1="332.13" x2="604.37" y2="332.13" stroke="#d5d5d5" stroke-width="1.5"/>
<line x1="360.2" y1="327.76" x2="604.37" y2="327.76" stroke="#d5d5d5" stroke-width="1.5"/>
<line x1="360.2" y1="323.39" x2="604.37" y2="323.39" stroke="#d5d5d5" stroke-width="1.5"/>
<line x1="360.2" y1="319.02" x2="604.37" y2="319.02" stroke="#d5d5d5" stroke-width="1.5"/>
<line x1="360.2" y1="310.28" x2="604.37" y2="310.28" stroke="#d5d5d5" stroke-width="1.5"/>
<line x1="360.2" y1="305.91" x2="604.37" y2="305.91" stroke="#d5d5d5" stroke-width="1.5"/>
<line x1="360.2" y1="301.54" x2="604.37" y2="301.54" stroke="#d5d5d5" stroke-width="1.5"/>
<line x1="360.2" y1="297.17" x2="604.37" y2="297.17" stroke="#d5d5d5" stroke-width="1.5"/>
<line x1="360.2" y1="288.43" x2="604.37" y2="288.43" stroke="#d5d5d5" stroke-width="1.5"/>
<line x1="360.2" y1="284.06" x2="604.37" y2="284.06" stroke="#d5d5d5" stroke-width="1.5"/>
<line x1="360.2" y1="279.69" x2="604.37" y2="279.69" stroke="#d5d5d5" stroke-width="1.5"/>
<line x1="360.2" y1="275.32" x2="604.37" y2="275.32" stroke="#d5d5d5" stroke-width="1.5"/>
<line x1="360.2" y1="266.58" x2="604.37" y2="266.58" stroke="#d5d5d5" stroke-width="1.5"/>
<line x1="360.2" y1="262.21" x2="604.37" y2="262.21" stroke="#d5d5d5" stroke-width="1.5"/>
<line x1="360.2" y1="257.84" x2="604.37" y2="257.84" stroke="#d5d5d5" stroke-width="1.5"/>
<line x1="360.2" y1="253.47" x2="604.37" y2="253.47" stroke="#d5d5d5" stroke-width="1.5"/>
<line x1="400.89" y1="249.1" x2="400.89" y2="384.4" stroke="#8a8a8a" stroke-width="1.1"/>
<line x1="441.59" y1="249.1" x2="441.59" y2="384.4" stroke="#8a8a8a" stroke-width="1.1"/>
<line x1="482.28" y1="249.1" x2="482.28" y2="384.4" stroke="#8a8a8a" stroke-width="1.1"/>
<line x1="522.98" y1="249.1" x2="522.98" y2="384.4" stroke="#8a8a8a" stroke-width="1.1"/>
<line x1="563.67" y1="249.1" x2="563.67" y2="384.4" stroke="#8a8a8a" stroke-width="1.1"/>
<line x1="604.37" y1="249.1" x2="604.37" y2="384.4" stroke="#8a8a8a" stroke-width="1.1"/>
<line x1="356.3" y1="358.35" x2="604.37" y2="358.35" stroke="#8a8a8a" stroke-width="1.1"/>
<line x1="356.3" y1="336.5" x2="604.37" y2="336.5" stroke="#8a8a8a" stroke-width="1.1"/>
<line x1="356.3" y1="314.65" x2="604.37" y2="314.65" stroke="#8a8a8a" stroke-width="1.1"/>
<line x1="356.3" y1="292.8" x2="604.37" y2="292.8" stroke="#8a8a8a" stroke-width="1.1"/>
<line x1="356.3" y1="270.95" x2="604.37" y2="270.95" stroke="#8a8a8a" stroke-width="1.1"/>
<line x1="356.3" y1="249.1" x2="604.37" y2="249.1" stroke="#8a8a8a" stroke-width="1.1"/>
<text x="356.31" y="400.6">0</text>
<text x="397" y="400.6">5</text>
<text x="433.8" y="400.6"><tspan class="h">1</tspan>0</text><path class="one" transform="translate(433.8 400.6) scale(0.006836 -0.006836)" d="M763 0H583V1100Q518 1040 412 980Q307 921 223 891V1058Q374 1127 487 1224Q600 1321 647 1409H763V0Z"/>
<text x="474.5" y="400.6"><tspan class="h">1</tspan>5</text><path class="one" transform="translate(474.5 400.6) scale(0.006836 -0.006836)" d="M763 0H583V1100Q518 1040 412 980Q307 921 223 891V1058Q374 1127 487 1224Q600 1321 647 1409H763V0Z"/>
<text x="515.19" y="400.6">20</text>
<text x="555.89" y="400.6">25</text>
<text x="596.58" y="400.6">30</text>
<text x="343.41" y="384.3">0</text>
<text x="335.63" y="362.45">20</text>
<text x="335.63" y="340.6">40</text>
<text x="335.63" y="318.75">60</text>
<text x="335.63" y="296.9">80</text>
<text x="327.84" y="275.05"><tspan class="h">1</tspan>00</text><path class="one" transform="translate(327.84 275.05) scale(0.006836 -0.006836)" d="M763 0H583V1100Q518 1040 412 980Q307 921 223 891V1058Q374 1127 487 1224Q600 1321 647 1409H763V0Z"/>
<text x="327.84" y="253.2"><tspan class="h">1</tspan>20</text><path class="one" transform="translate(327.84 253.2) scale(0.006836 -0.006836)" d="M763 0H583V1100Q518 1040 412 980Q307 921 223 891V1058Q374 1127 487 1224Q600 1321 647 1409H763V0Z"/>
<path class="po" d="M466.01 295.36L468.91 298.26L466.01 301.16L463.11 298.26ZM474.15 284.44L477.05 287.34L474.15 290.24L471.25 287.34ZM474.15 303.01L477.05 305.91L474.15 308.81L471.25 305.91ZM474.15 312.84L477.05 315.74L474.15 318.64L471.25 315.74ZM482.28 268.05L485.18 270.95L482.28 273.85L479.38 270.95ZM482.28 299.73L485.18 302.63L482.28 305.53L479.38 302.63ZM482.28 343.43L485.18 346.33L482.28 349.23L479.38 346.33ZM490.42 355.45L493.32 358.35L490.42 361.25L487.52 358.35ZM498.56 299.73L501.46 302.63L498.56 305.53L495.66 302.63ZM506.7 268.05L509.6 270.95L506.7 273.85L503.8 270.95ZM506.7 278.98L509.6 281.88L506.7 284.77L503.8 281.88ZM506.7 298.64L509.6 301.54L506.7 304.44L503.8 301.54ZM514.84 305.19L517.74 308.09L514.84 310.99L511.94 308.09ZM514.84 333.6L517.74 336.5L514.84 339.4L511.94 336.5ZM522.98 319.4L525.88 322.3L522.98 325.2L520.08 322.3ZM531.12 298.64L534.02 301.54L531.12 304.44L528.22 301.54ZM531.12 310.66L534.02 313.56L531.12 316.46L528.22 313.56ZM531.12 356.54L534.02 359.44L531.12 362.34L528.22 359.44ZM539.26 335.79L542.16 338.69L539.26 341.58L536.36 338.69ZM539.26 377.3L542.16 380.2L539.26 383.1L536.36 380.2ZM547.4 278.98L550.3 281.88L547.4 284.77L544.5 281.88ZM547.4 285.53L550.3 288.43L547.4 291.33L544.5 288.43ZM547.4 377.3L550.3 380.2L547.4 383.1L544.5 380.2ZM555.54 312.84L558.44 315.74L555.54 318.64L552.64 315.74ZM555.54 321.58L558.44 324.48L555.54 327.38L552.64 324.48ZM555.54 324.86L558.44 327.76L555.54 330.66L552.64 327.76ZM555.54 355.45L558.44 358.35L555.54 361.25L552.64 358.35ZM555.54 359.82L558.44 362.72L555.54 365.62L552.64 362.72ZM555.54 365.28L558.44 368.18L555.54 371.08L552.64 368.18ZM555.54 366.38L558.44 369.27L555.54 372.17L552.64 369.27ZM563.67 329.23L566.57 332.13L563.67 335.03L560.77 332.13ZM563.67 353.26L566.57 356.16L563.67 359.06L560.77 356.16ZM563.67 362L566.57 364.9L563.67 367.8L560.77 364.9ZM563.67 369.65L566.57 372.55L563.67 375.45L560.77 372.55ZM571.81 358.73L574.71 361.63L571.81 364.53L568.91 361.63ZM571.81 371.84L574.71 374.74L571.81 377.64L568.91 374.74ZM579.95 320.49L582.85 323.39L579.95 326.29L577.05 323.39ZM579.95 359.82L582.85 362.72L579.95 365.62L577.05 362.72ZM579.95 375.12L582.85 378.01L579.95 380.91L577.05 378.01ZM579.95 376.21L582.85 379.11L579.95 382.01L577.05 379.11ZM588.09 357.63L590.99 360.53L588.09 363.43L585.19 360.53ZM588.09 371.84L590.99 374.74L588.09 377.64L585.19 374.74ZM596.23 377.3L599.13 380.2L596.23 383.1L593.33 380.2Z"/>
<path class="pi" d="M466.01 295.36L468.91 298.26L466.01 301.16L463.11 298.26ZM474.15 284.44L477.05 287.34L474.15 290.24L471.25 287.34ZM474.15 303.01L477.05 305.91L474.15 308.81L471.25 305.91ZM474.15 312.84L477.05 315.74L474.15 318.64L471.25 315.74ZM482.28 268.05L485.18 270.95L482.28 273.85L479.38 270.95ZM482.28 299.73L485.18 302.63L482.28 305.53L479.38 302.63ZM482.28 343.43L485.18 346.33L482.28 349.23L479.38 346.33ZM490.42 355.45L493.32 358.35L490.42 361.25L487.52 358.35ZM498.56 299.73L501.46 302.63L498.56 305.53L495.66 302.63ZM506.7 268.05L509.6 270.95L506.7 273.85L503.8 270.95ZM506.7 278.98L509.6 281.88L506.7 284.77L503.8 281.88ZM506.7 298.64L509.6 301.54L506.7 304.44L503.8 301.54ZM514.84 305.19L517.74 308.09L514.84 310.99L511.94 308.09ZM514.84 333.6L517.74 336.5L514.84 339.4L511.94 336.5ZM522.98 319.4L525.88 322.3L522.98 325.2L520.08 322.3ZM531.12 298.64L534.02 301.54L531.12 304.44L528.22 301.54ZM531.12 310.66L534.02 313.56L531.12 316.46L528.22 313.56ZM531.12 356.54L534.02 359.44L531.12 362.34L528.22 359.44ZM539.26 335.79L542.16 338.69L539.26 341.58L536.36 338.69ZM539.26 377.3L542.16 380.2L539.26 383.1L536.36 380.2ZM547.4 278.98L550.3 281.88L547.4 284.77L544.5 281.88ZM547.4 285.53L550.3 288.43L547.4 291.33L544.5 288.43ZM547.4 377.3L550.3 380.2L547.4 383.1L544.5 380.2ZM555.54 312.84L558.44 315.74L555.54 318.64L552.64 315.74ZM555.54 321.58L558.44 324.48L555.54 327.38L552.64 324.48ZM555.54 324.86L558.44 327.76L555.54 330.66L552.64 327.76ZM555.54 355.45L558.44 358.35L555.54 361.25L552.64 358.35ZM555.54 359.82L558.44 362.72L555.54 365.62L552.64 362.72ZM555.54 365.28L558.44 368.18L555.54 371.08L552.64 368.18ZM555.54 366.38L558.44 369.27L555.54 372.17L552.64 369.27ZM563.67 329.23L566.57 332.13L563.67 335.03L560.77 332.13ZM563.67 353.26L566.57 356.16L563.67 359.06L560.77 356.16ZM563.67 362L566.57 364.9L563.67 367.8L560.77 364.9ZM563.67 369.65L566.57 372.55L563.67 375.45L560.77 372.55ZM571.81 358.73L574.71 361.63L571.81 364.53L568.91 361.63ZM571.81 371.84L574.71 374.74L571.81 377.64L568.91 374.74ZM579.95 320.49L582.85 323.39L579.95 326.29L577.05 323.39ZM579.95 359.82L582.85 362.72L579.95 365.62L577.05 362.72ZM579.95 375.12L582.85 378.01L579.95 380.91L577.05 378.01ZM579.95 376.21L582.85 379.11L579.95 382.01L577.05 379.11ZM588.09 357.63L590.99 360.53L588.09 363.43L585.19 360.53ZM588.09 371.84L590.99 374.74L588.09 377.64L585.19 374.74ZM596.23 377.3L599.13 380.2L596.23 383.1L593.33 380.2Z"/>
<line x1="466.01" y1="289.96" x2="596.23" y2="373.97" stroke="#111" stroke-width="1.0"/>
<line x1="360.2" y1="249.1" x2="360.2" y2="384.4" stroke="#8a8a8a" stroke-width="1.1"/>
<line x1="356.3" y1="380.2" x2="604.37" y2="380.2" stroke="#8a8a8a" stroke-width="1.1"/>
</g>
<text class="t" x="152.6" y="11.9" style="font-size:18.5px">a</text>
<text class="t" x="17.1" y="229.8" style="font-size:19.2px">b</text>
<text class="t" x="336.3" y="230.2">c</text>
<text x="304" y="203.4" text-anchor="middle">VAS</text>
<text x="149.4" y="416.7" text-anchor="middle">GS</text>
<text x="482.4" y="416.4" text-anchor="middle">JOA</text>
<text transform="translate(148.3 95) rotate(-90)" text-anchor="middle">GS</text>
<text transform="translate(13.1 311.5) rotate(-90)" text-anchor="middle">JOA</text>
<text transform="translate(325.3 312.2) rotate(-90)" text-anchor="middle">VAS</text>
</g>
</svg>
</body></html>
